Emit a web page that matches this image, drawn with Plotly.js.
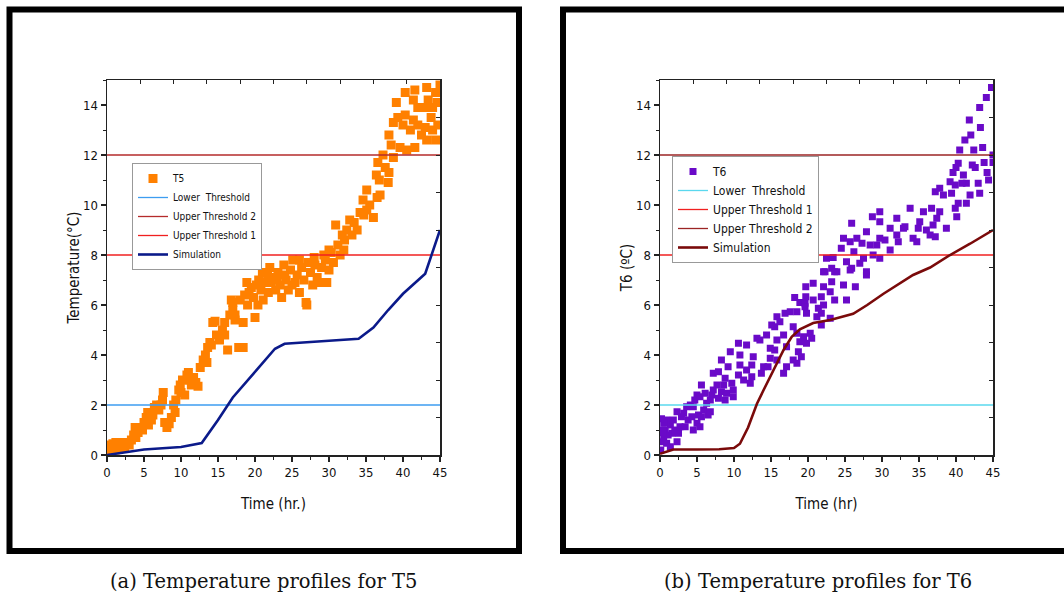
<!DOCTYPE html>
<html>
<head>
<meta charset="utf-8">
<script src="https://cdn.plot.ly/plotly-3.0.1.min.js"></script>
<style>html,body{margin:0;padding:0;background:#fff}#chart{width:1064px;height:596px}</style>
</head>
<body>
<div id="chart"></div>
<script>
// ---------- Data: T5 ----------
const t5Time = [0.2,0.4,0.6,0.8,1.0,1.2,1.4,1.6,1.8,2.0,2.2,2.5,2.8,3.0,0.3,1.1,2.4,
 3.3,3.6,3.9,4.2,4.5,4.8,3.8,
 5.0,5.3,5.6,5.9,6.2,6.4,6.7,7.0,5.5,6.0,
 7.3,7.6,7.8,8.1,8.4,8.7,9.0,9.2,7.5,9.3,
 9.7,9.9,10.2,10.5,10.8,11.1,11.4,11.7,12.0,12.3,10.0,11.0,
 12.6,13.0,13.3,13.6,13.9,14.1,14.3,14.6,14.8,13.5,
 15.2,15.6,15.9,15.9,16.3,16.6,17.0,17.3,17.3,17.8,18.4,17.0,16.8,18.0,18.4,
 18.6,18.9,19.2,19.5,19.8,20.0,20.2,20.5,20.8,21.1,21.4,21.7,22.0,19.0,20.4,21.0,21.8,22.2,
 22.5,22.8,23.1,23.4,23.6,23.9,24.2,24.5,24.8,25.1,25.4,25.7,26.0,26.3,26.6,26.9,27.0,27.2,27.5,27.8,28.1,28.4,28.7,29.0,29.3,29.7,30.0,24.0,25.0,26.0,28.0,23.0,29.5,
 30.3,30.6,30.9,31.2,31.5,31.8,32.1,32.4,32.8,33.1,33.4,33.8,34.2,34.6,34.7,35.1,35.1,35.5,36.0,30.0,32.0,
 36.4,36.5,36.6,36.9,37.3,37.6,38.0,38.1,38.1,38.4,38.7,38.7,39.1,39.3,36.8,
 39.6,40.0,40.3,40.3,40.5,41.0,41.4,41.4,41.6,41.6,42.0,42.0,42.5,43.0,43.0,43.2,43.2,43.4,43.8,44.0,44.0,44.4,44.4,44.7,45.0,44.6];
const t5Temp = [0.25,0.4,0.3,0.45,0.35,0.5,0.3,0.45,0.4,0.5,0.35,0.45,0.5,0.4,0.1,0.2,0.3,
 0.6,0.8,0.7,0.9,1.1,1.0,1.1,
 1.3,1.5,1.2,1.7,1.6,1.9,2.0,1.8,1.7,1.4,
 2.0,2.5,1.3,1.1,1.25,1.5,2.0,1.7,2.2,2.2,
 2.6,2.8,3.0,2.4,3.2,3.0,2.8,3.1,2.9,2.75,2.5,3.3,
 3.5,3.8,4.0,4.3,4.5,4.4,5.3,5.35,4.8,3.7,
 4.6,5.0,5.3,4.8,4.2,5.6,5.8,5.6,5.4,4.3,5.3,6.1,6.2,6.2,4.3,
 6.4,6.9,6.5,6.7,6.3,5.5,6.8,7.0,6.6,6.2,6.9,7.2,7.5,6.0,6.0,7.3,6.5,6.9,
 7.1,6.6,7.3,6.8,6.3,7.6,7.0,6.6,7.4,7.8,6.9,7.2,6.5,7.5,7.0,6.1,6.0,7.7,7.3,6.8,7.6,7.1,6.9,7.5,8.0,6.9,7.4,7.2,6.8,7.8,7.9,7.0,7.8,
 8.1,7.7,9.2,8.4,8.0,8.8,8.6,9.0,9.4,8.8,9.3,9.0,9.7,10.2,9.6,10.6,9.8,10.0,9.5,8.2,8.2,
 11.2,10.3,11.7,10.4,12.0,11.5,10.9,11.3,12.8,12.4,11.9,13.3,14.1,13.5,11.0,
 12.3,13.2,13.6,14.5,12.2,13.0,14.2,13.4,12.3,14.6,13.2,13.9,12.8,13.1,13.9,14.7,12.6,14.2,13.5,13.0,13.9,12.6,14.5,13.2,14.8,14.1];
const simTime5 = [0,1,3,5,8,10,12.8,15,17,20,22.7,24,27,30,34,36,38,40,43,45];
const simTemp5 = [0,0.05,0.15,0.22,0.28,0.32,0.48,1.4,2.3,3.35,4.25,4.45,4.5,4.57,4.65,5.1,5.8,6.45,7.25,9.0];

// ---------- Data: T6 ----------
const t6Time = [0.2,0.5,0.7,0.9,0.9,1.4,1.4,1.6,1.8,2.0,2.3,2.3,2.5,2.7,2.9,3.2,3.4,3.6,3.8,4.1,4.3,4.5,4.5,4.7,5.0,5.0,5.2,5.4,5.4,5.6,5.6,5.9,6.1,6.3,6.5,6.8,6.8,7.0,7.2,7.2,7.7,7.9,7.9,8.3,8.3,8.6,8.8,8.8,9.0,9.2,9.5,9.7,9.9,9.9,0.5,0.1,0.3,1.1,0.2,0.4,
 10.6,10.6,10.8,10.8,11.3,11.7,11.7,12.2,12.4,12.4,12.6,13.1,13.5,13.7,14.0,14.4,14.6,14.9,14.9,15.1,15.5,15.5,15.8,15.8,15.8,16.2,16.7,16.7,16.9,17.1,17.1,17.6,18.0,18.0,18.2,18.5,18.5,18.7,18.9,18.9,19.1,19.4,19.6,19.7,19.7,19.8,20.3,20.5,20.7,20.7,21.2,21.4,21.8,21.8,21.8,22.1,22.1,22.1,23.0,23.0,23.2,23.2,23.6,23.9,24.8,25.2,25.9,26.4,27.9,18.5,19.8,19.6,
 22.5,23.4,22.3,23.6,25.2,27.0,25.7,27.9,27.5,26.2,24.5,28.4,27.3,26.6,25.7,24.8,25.9,29.7,28.8,29.3,29.7,30.4,27.9,28.7,29.7,29.7,31.1,32.2,32.0,31.1,32.9,32.0,33.1,34.7,34.2,33.8,34.9,36.0,35.1,35.6,37.2,36.5,36.9,36.7,37.8,37.4,38.7,40.1,39.9,41.4,40.3,38.3,39.4,43.2,43.0,39.9,39.2,41.9,41.4,40.8,41.0,37.8,37.2,
 39.6,40.3,42.6,43.8,44.2,44.4,45.0,45.0,40.5,42.4,43.6,41.2,42.0,43.3,41.8,43.2,44.1,44.8,40.0,42.2];
const t6Temp = [0.53,0.73,1.0,0.47,1.4,1.2,0.33,0.87,1.4,1.0,1.73,0.53,0.87,1.13,1.53,1.67,1.13,1.93,1.4,2.0,1.53,1.0,1.93,2.2,1.27,2.4,1.6,1.13,2.33,1.53,2.8,1.8,2.47,2.07,1.6,1.73,2.2,2.4,2.6,3.27,2.8,2.27,3.33,2.53,3.8,2.8,2.2,3.07,2.47,3.53,4.13,2.87,2.33,2.6,1.27,0.2,1.0,0.8,1.45,0.9,
 3.2,4.47,3.6,4.0,3.0,3.4,4.4,2.87,3.13,3.6,3.93,4.67,4.6,3.27,3.53,4.8,3.53,3.87,4.27,5.2,4.2,5.13,3.8,4.6,5.53,5.33,3.27,4.8,5.67,3.53,4.33,5.73,3.8,5.13,6.3,3.67,4.87,4.13,4.53,6.1,3.93,4.73,6.07,6.73,6.33,4.47,4.87,4.67,6.87,6.2,5.53,5.87,5.2,5.67,6.33,7.33,6.73,6.0,5.47,6.53,7.47,6.93,6.2,7.33,6.8,6.2,7.47,6.73,7.2,5.73,5.67,5.93,
 7.87,7.9,7.33,7.33,7.73,7.67,7.4,7.33,7.87,8.13,8.27,8.4,8.47,8.67,8.53,8.67,9.27,7.87,8.0,8.4,8.67,8.6,8.93,9.53,9.33,9.73,8.2,8.53,8.8,9.07,9.07,9.47,9.13,8.53,8.67,9.87,9.07,9.0,9.33,9.73,8.73,8.8,9.2,9.87,9.73,9.47,9.07,9.53,9.87,10.07,10.07,10.4,10.47,10.47,10.87,10.8,10.93,10.4,10.87,10.87,11.2,10.67,10.53,
 11.3,11.67,11.5,11.7,11.3,11.0,12.0,11.7,12.2,12.2,12.3,12.6,12.8,13.1,13.4,13.9,14.3,14.7,11.5,11.6];
const simTime6 = [0,1.8,5,8,10,10.8,11.9,13.1,14,15.3,16.7,17.8,18.9,20.7,23,26.1,28,30.2,34.2,36.5,39.2,41.9,45];
const simTemp6 = [0.05,0.22,0.22,0.23,0.28,0.45,1.1,2.05,2.6,3.4,4.2,4.73,5.03,5.28,5.4,5.65,6.0,6.45,7.2,7.5,8.0,8.45,9.0];

// ---------- Thresholds ----------
const thrTime = [0, 45];
const lowerThreshold = 2;
const upperThreshold1 = 8;
const upperThreshold2 = 12;

// ---------- Layout helpers ----------
const W = 1064, H = 596;
const px = v => v / W, py = v => 1 - v / H;
const narrow = 'Liberation Sans Narrow, Arial Narrow, DejaVu Sans Condensed, Arial, sans-serif';
const serif = 'DejaVu Serif, Liberation Serif, serif';

const flat = (v) => thrTime.map(() => v);

const traces = [
  {x: t5Time, y: t5Temp, type: 'scatter', mode: 'markers', name: 'T5', xaxis: 'x', yaxis: 'y', legend: 'legend',
   marker: {symbol: 'square', size: 9, color: '#ff8000'}},
  {x: thrTime, y: flat(lowerThreshold), type: 'scatter', mode: 'lines', name: 'Lower\u00a0 Threshold', xaxis: 'x', yaxis: 'y', legend: 'legend',
   line: {color: '#3d9df0', width: 1.3}},
  {x: thrTime, y: flat(upperThreshold2), type: 'scatter', mode: 'lines', name: 'Upper Threshold 2', xaxis: 'x', yaxis: 'y', legend: 'legend',
   line: {color: '#b52b2b', width: 1.3}},
  {x: thrTime, y: flat(upperThreshold1), type: 'scatter', mode: 'lines', name: 'Upper Threshold 1', xaxis: 'x', yaxis: 'y', legend: 'legend',
   line: {color: '#f02020', width: 1.3}},
  {x: simTime5, y: simTemp5, type: 'scatter', mode: 'lines', name: 'Simulation', xaxis: 'x', yaxis: 'y', legend: 'legend',
   line: {color: '#0b1a8a', width: 2.6}},

  {x: t6Time, y: t6Temp, type: 'scatter', mode: 'markers', name: 'T6', xaxis: 'x2', yaxis: 'y2', legend: 'legend2',
   marker: {symbol: 'square', size: 7, color: '#6a0ac8'}},
  {x: thrTime, y: flat(lowerThreshold), type: 'scatter', mode: 'lines', name: 'Lower\u00a0 Threshold', xaxis: 'x2', yaxis: 'y2', legend: 'legend2',
   line: {color: '#5ad8ee', width: 1.3}},
  {x: thrTime, y: flat(upperThreshold1), type: 'scatter', mode: 'lines', name: 'Upper Threshold 1', xaxis: 'x2', yaxis: 'y2', legend: 'legend2',
   line: {color: '#f02020', width: 1.3}},
  {x: thrTime, y: flat(upperThreshold2), type: 'scatter', mode: 'lines', name: 'Upper Threshold 2', xaxis: 'x2', yaxis: 'y2', legend: 'legend2',
   line: {color: '#9b2424', width: 1.3}},
  {x: simTime6, y: simTemp6, type: 'scatter', mode: 'lines', name: 'Simulation', xaxis: 'x2', yaxis: 'y2', legend: 'legend2',
   line: {color: '#7a0a0a', width: 2.6}},

  // empty helper traces so the mirrored top/right tick axes are drawn
  {x: [], y: [], type: 'scatter', mode: 'markers', xaxis: 'x3', yaxis: 'y3', showlegend: false, hoverinfo: 'skip'},
  {x: [], y: [], type: 'scatter', mode: 'markers', xaxis: 'x4', yaxis: 'y4', showlegend: false, hoverinfo: 'skip'}
];

const tickFont = {family: narrow, size: 13, color: '#111'};
const titleFont = {family: narrow, size: 15, color: '#111'};

function xAx(domain, title, anchor) {
  return {domain: domain, anchor: anchor, range: [0, 45], dtick: 5, tick0: 0,
    ticks: 'outside', ticklen: 5, tickwidth: 1.2, tickcolor: '#222',
    minor: {dtick: 2.5, ticks: 'outside', ticklen: 3, tickwidth: 1, tickcolor: '#222'},
    showline: true, linecolor: '#222', linewidth: 1.5, showgrid: false, zeroline: false,
    tickfont: tickFont, title: {text: title, font: titleFont, standoff: 19}, fixedrange: true};
}
function yAx(domain, title, anchor) {
  return {domain: domain, anchor: anchor, range: [0, 15], dtick: 2, tick0: 0,
    ticks: 'outside', ticklen: 5, tickwidth: 1.2, tickcolor: '#222',
    minor: {dtick: 1, ticks: 'outside', ticklen: 3, tickwidth: 1, tickcolor: '#222'},
    showline: true, linecolor: '#222', linewidth: 1.5, showgrid: false, zeroline: false,
    tickfont: tickFont, title: {text: title, font: titleFont, standoff: 0}, fixedrange: true};
}
function xTop(over, anchor, domain) {
  return {overlaying: over, anchor: anchor, side: 'top', domain: domain, range: [0, 45], dtick: 4.5, tick0: 0,
    ticks: 'inside', ticklen: 4, tickwidth: 1, tickcolor: '#222', showticklabels: false,
    showline: true, linecolor: '#222', linewidth: 1.5, showgrid: false, zeroline: false, fixedrange: true};
}
function yRight(over, anchor, domain) {
  return {overlaying: over, anchor: anchor, side: 'right', domain: domain, range: [0, 15], dtick: 1.5, tick0: 0,
    ticks: 'inside', ticklen: 4, tickwidth: 1, tickcolor: '#222', showticklabels: false,
    showline: true, linecolor: '#222', linewidth: 1.5, showgrid: false, zeroline: false, fixedrange: true};
}

const yDom = [py(455), py(80)];
const x1Dom = [px(107), px(440)];
const x2Dom = [px(660), px(993)];

const layout = {
  width: W, height: H,
  margin: {l: 0, r: 0, t: 0, b: 0},
  paper_bgcolor: '#fff', plot_bgcolor: '#fff',
  showlegend: true,
  xaxis: xAx(x1Dom, 'Time (hr.)', 'y'),
  yaxis: yAx(yDom, 'Temperature(°C)', 'x'),
  xaxis2: xAx(x2Dom, 'Time (hr)', 'y2'),
  yaxis2: yAx(yDom, 'T6 (ºC)', 'x2'),
  xaxis3: xTop('x', 'y', x1Dom),
  yaxis3: yRight('y', 'x', yDom),
  xaxis4: xTop('x2', 'y2', x2Dom),
  yaxis4: yRight('y2', 'x2', yDom),
  legend: {x: px(132), y: py(163), xanchor: 'left', yanchor: 'top',
    bgcolor: '#fff', bordercolor: '#999', borderwidth: 1,
    font: {family: narrow, size: 10, color: '#111'}, itemwidth: 30, tracegroupgap: 0},
  legend2: {x: px(672), y: py(156), xanchor: 'left', yanchor: 'top',
    bgcolor: '#fff', bordercolor: '#999', borderwidth: 1,
    font: {family: narrow, size: 12, color: '#111'}, itemwidth: 30, tracegroupgap: 0},
  shapes: [
    {type: 'rect', xref: 'paper', yref: 'paper', x0: px(9.5), x1: px(519), y0: py(551), y1: py(9.5),
     line: {color: '#000', width: 6}, fillcolor: 'rgba(0,0,0,0)', layer: 'below'},
    {type: 'rect', xref: 'paper', yref: 'paper', x0: px(563), x1: px(1075), y0: py(551), y1: py(9.5),
     line: {color: '#000', width: 6}, fillcolor: 'rgba(0,0,0,0)', layer: 'below'}
  ],
  annotations: [
    {xref: 'paper', yref: 'paper', x: px(263), y: py(581), xanchor: 'center', yanchor: 'middle', showarrow: false,
     text: '(a) Temperature profiles for T5', font: {family: serif, size: 19.5, color: '#111'}},
    {xref: 'paper', yref: 'paper', x: px(818), y: py(581), xanchor: 'center', yanchor: 'middle', showarrow: false,
     text: '(b) Temperature profiles for T6', font: {family: serif, size: 19.5, color: '#111'}}
  ]
};

Plotly.newPlot('chart', traces, layout, {displayModeBar: false, staticPlot: true});
</script>
</body>
</html>
